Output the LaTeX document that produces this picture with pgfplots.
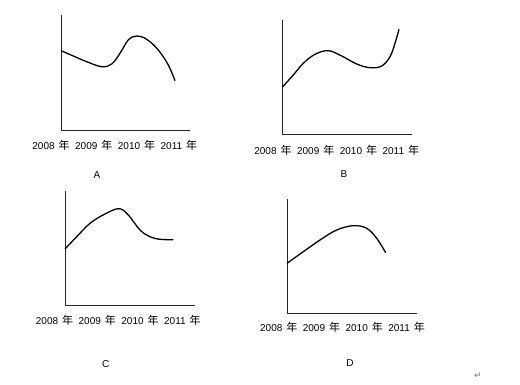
\documentclass[border=0pt]{standalone}
\usepackage{fontspec}
\setmainfont{Liberation Sans}
\newfontfamily\cjk{Noto Sans CJK SC}
\newfontfamily\dejavu{DejaVu Sans}
\usepackage{pgfplots}
\pgfplotsset{compat=1.18}
\newcommand{\nian}{{\cjk\fontsize{11}{12}\selectfont 年}}
\newcommand{\yrs}{\fontsize{10}{12}\selectfont 2008\hspace{4pt}\nian\hspace{5.5pt}2009\hspace{4pt}\nian\hspace{5.5pt}2010\hspace{4pt}\nian\hspace{5.5pt}2011\hspace{4pt}\nian}
\pgfplotsset{panel/.style={
  scale only axis,
  xmin=0, ymin=0,
  axis x line=bottom, axis y line=left,
  axis line style={-, line width=1pt, black!85},
  xtick=\empty, ytick=\empty,
  clip=false,
  anchor=south west,
}, curve/.style={line width=1.3pt, black, smooth, tension=0.6, no markers}}
\begin{document}
\begin{tikzpicture}
\useasboundingbox (0,0) rectangle (520pt,385pt);
% A
\begin{axis}[panel, at={(61pt,254pt)}, width=129pt, height=116pt, xmax=129, ymax=116]
\addplot[curve] coordinates {(0,80.3) (12.3,75) (25.7,69.3) (40.7,64.3) (50.7,67) (59,77.7) (67.3,91) (75.7,95) (85.7,91.7) (97.3,81) (107.3,66) (114,50.3)};
\node at (axis cs:53.8,-14.3) {\yrs};
\node at (axis cs:36,-44) {\fontsize{10}{12}\selectfont A};
\end{axis}
% B
\begin{axis}[panel, at={(282pt,250pt)}, width=130pt, height=115pt, xmax=130, ymax=115]
\addplot[curve] coordinates {(0.3,47.7) (11.3,60) (21.3,71.7) (33,80.7) (46.3,84.3) (59.7,79) (74.7,71) (88,67.3) (99.7,69) (108,78.3) (113,91.7) (117,105.7)};
\node at (axis cs:54.7,-15.3) {\yrs};
\node at (axis cs:62,-39) {\fontsize{10}{12}\selectfont B};
\end{axis}
% C
\begin{axis}[panel, at={(65pt,79pt)}, width=130pt, height=115pt, xmax=130, ymax=115]
\addplot[curve] coordinates {(0,57) (11.7,69.3) (25,82.7) (40,92) (54,97.3) (63.3,91) (75,76) (85,69.3) (95,66.7) (108.3,66.3)};
\node at (axis cs:53.3,-14.3) {\yrs};
\node at (axis cs:40.7,-58.3) {\fontsize{10}{12}\selectfont C};
\end{axis}
% D
\begin{axis}[panel, at={(287pt,71pt)}, width=130pt, height=115pt, xmax=130, ymax=115]
\addplot[curve] coordinates {(0,50.7) (16.3,62.3) (33,74) (49.7,84) (66.3,88.3) (79.7,85.7) (89.7,75.7) (98.7,61.3)};
\node at (axis cs:55.5,-13.3) {\yrs};
\node at (axis cs:63,-49.3) {\fontsize{10}{12}\selectfont D};
\node[text=black!55] at (axis cs:191,-62) {\dejavu\fontsize{9}{10}\selectfont ↵};
\end{axis}
\end{tikzpicture}
\end{document}
